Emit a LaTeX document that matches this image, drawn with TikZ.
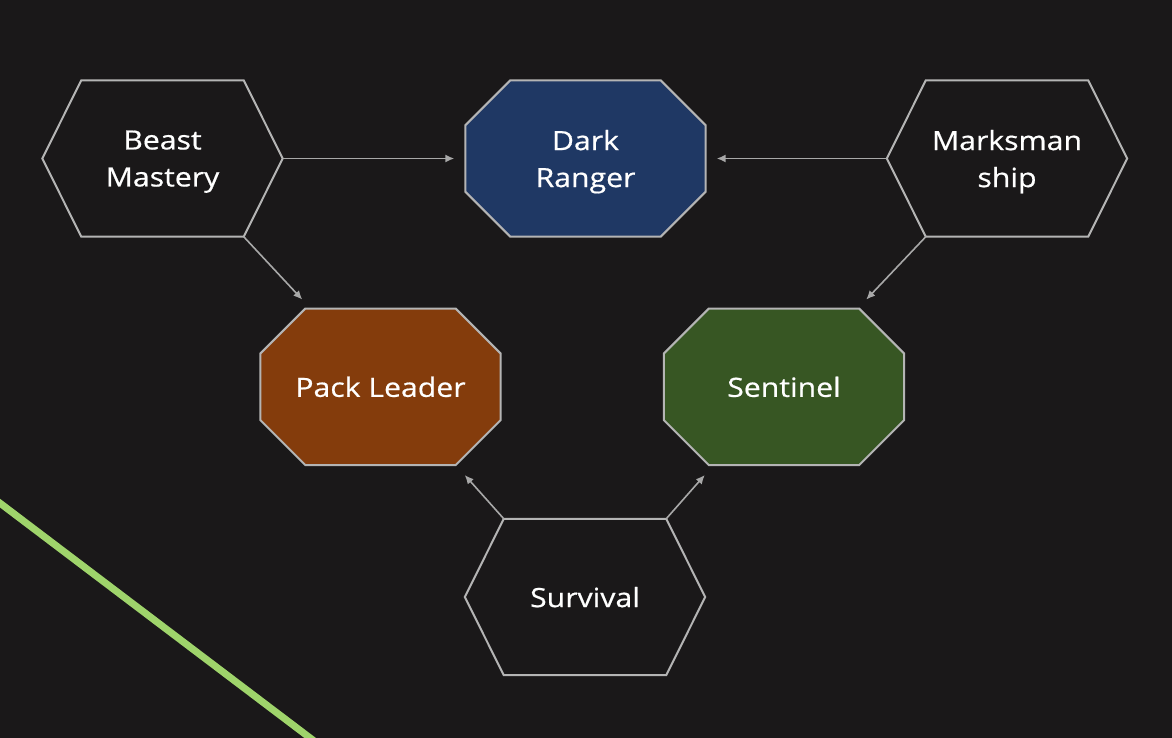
\documentclass[tikz,border=0pt]{standalone}
\usepackage{fontspec}
\setmainfont{Open Sans}[FakeStretch=1.14,FakeBold=0.6]
\usetikzlibrary{calc,arrows.meta}
\definecolor{bgc}{HTML}{1A1819}
\definecolor{edgec}{HTML}{B4B4B4}
\definecolor{arrc}{HTML}{A8A8A8}
\definecolor{greenc}{HTML}{9FD46B}
\definecolor{bluec}{HTML}{1F3864}
\definecolor{brownc}{HTML}{843C0C}
\definecolor{greenfill}{HTML}{375623}
\pgfdeclarelayer{back}
\pgfdeclarelayer{shapes}
\pgfsetlayers{back,shapes,main}
\newcommand{\hexpath}[2]{%
  \begin{pgfonlayer}{shapes}
  \draw[border,fill=#2] (#1.west) -- ($(#1.north west)+(39,0)$) -- ($(#1.north east)+(-39,0)$) -- (#1.east) -- ($(#1.south east)+(-39,0)$) -- ($(#1.south west)+(39,0)$) -- cycle;
  \end{pgfonlayer}}
\newcommand{\octpath}[2]{%
  \begin{pgfonlayer}{shapes}
  \draw[border,fill=#2] ($(#1.north west)+(45,0)$) -- ($(#1.north east)+(-45,0)$) -- ($(#1.north east)+(0,45)$) -- ($(#1.south east)+(0,-45)$) -- ($(#1.south east)+(-45,0)$) -- ($(#1.south west)+(45,0)$) -- ($(#1.south west)+(0,-45)$) -- ($(#1.north west)+(0,45)$) -- cycle;
  \end{pgfonlayer}}
\begin{document}
\begin{tikzpicture}[x=1pt,y=-1pt,
  box/.style={minimum width=240pt, minimum height=156pt, inner sep=0pt, align=center, text=white, text depth=0pt, font=\fontsize{26.5}{37}\selectfont},
  border/.style={draw=edgec, line width=2pt, line join=miter},
  arr/.style={-{Latex[length=9pt,width=8pt]}, draw=arrc, line width=1.6pt}]
\useasboundingbox (0,0) rectangle (1172,738);
\begin{pgfonlayer}{back}
\fill[bgc] (0,0) rectangle (1172,738);
\begin{scope}
\clip (0,0) rectangle (1172,738);
\draw[greenc, line width=7pt] (-20,488) -- (330,753);
\end{scope}
\end{pgfonlayer}

\node[box] (bm) at (162.5,158.5) {Beast\\Mastery};
\node[box] (dr) at (585.5,158.5) {Dark\\Ranger};
\node[box] (ms) at (1007,158.5) {Marksman\\ship};
\node[box] (pl) at (380.5,386.8) {Pack Leader};
\node[box] (se) at (784,386.8) {Sentinel};
\node[box] (su) at (585,597) {Survival};

\hexpath{bm}{bgc}
\hexpath{ms}{bgc}
\hexpath{su}{bgc}
\octpath{dr}{bluec}
\octpath{pl}{brownc}
\octpath{se}{greenfill}

\draw[arr] (bm.east) -- ($(dr.west)+(-11,0)$);
\draw[arr] (ms.west) -- ($(dr.east)+(11,0)$);
\draw[arr] ($(bm.south east)+(-39,0)$) -- ($(pl.north west)+(42,-9)$);
\draw[arr] ($(ms.south west)+(39,0)$) -- ($(se.north east)+(-38,-9)$);
\draw[arr] ($(su.north west)+(39,0)$) -- ($(pl.south east)+(-36,10)$);
\draw[arr] ($(su.north east)+(-39,0)$) -- ($(se.south west)+(41,10)$);
\end{tikzpicture}
\end{document}
